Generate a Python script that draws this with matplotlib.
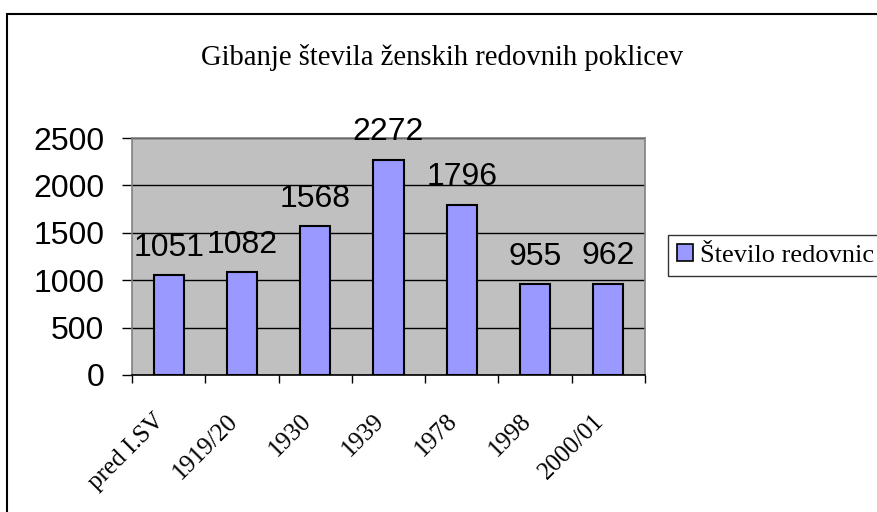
import matplotlib
matplotlib.use("Agg")
import matplotlib.pyplot as plt
from matplotlib.patches import Rectangle
import numpy as np

categories = ["pred I.SV", "1919/20", "1930", "1939", "1978", "1998", "2000/01"]
values = [1051, 1082, 1568, 2272, 1796, 955, 962]
y_ticks = [0, 500, 1000, 1500, 2000, 2500]
series_name = "Število redovnic"
title = "Gibanje števila ženskih redovnih poklicev"

W, H = 877, 512
fig = plt.figure(figsize=(W / 100, H / 100), dpi=100)
fig.patch.set_facecolor("white")

# outer chart border (left + top visible)
fig.patches.append(Rectangle((7 / W, -0.1), 1.2, 1.1 - 13.5 / H, transform=fig.transFigure,
                             fill=False, edgecolor="black", linewidth=1.5, zorder=0))

ax = fig.add_axes([132 / W, 1 - 375 / H, (645 - 132) / W, (375 - 138) / H])
ax.set_facecolor("#C0C0C0")

x = np.arange(len(categories))
bars = ax.bar(x, values, width=0.41, color="#9999FF", edgecolor="black",
              linewidth=1.5, zorder=3, label=series_name)

ax.set_xlim(-0.5, len(categories) - 0.5)
ax.set_ylim(0, 2500)
ax.set_yticks(y_ticks)
ax.yaxis.grid(True, color="black", linewidth=1, zorder=1)
ax.set_axisbelow(True)

for s in ["top", "right", "left"]:
    ax.spines[s].set_color("#808080")
ax.spines["bottom"].set_color("black")
for s in ax.spines.values():
    s.set_linewidth(1.2)

ax.tick_params(axis="y", direction="out", length=7, width=1, pad=13,
               labelsize=23, colors="black")
for lab in ax.get_yticklabels():
    lab.set_fontfamily("Liberation Sans")

# category boundary ticks, labels at centers
ax.set_xticks(np.arange(-0.5, len(categories), 1.0))
ax.set_xticklabels([])
ax.tick_params(axis="x", direction="out", length=6, width=1)
for i, c in enumerate(categories):
    ax.annotate(c, xy=(i, 0), xycoords=("data", "axes fraction"),
                xytext=(-11, -25), textcoords="offset points",
                rotation=45, rotation_mode="anchor", ha="right", va="top",
                fontsize=18, family="Liberation Serif")

for xi, v in zip(x, values):
    ax.annotate(str(v), xy=(xi, v), xytext=(0, 14), textcoords="offset points",
                ha="center", va="baseline", fontsize=23, family="Liberation Sans",
                zorder=5)

fig.text(442 / W, 1 - 65 / H, title, ha="center", va="baseline",
         fontsize=20.6, family="Liberation Serif")

handle = Rectangle((0, 0), 1, 1, facecolor="#9999FF", edgecolor="black", linewidth=1.2)
leg = fig.legend([handle], [series_name], loc="upper left",
                 bbox_to_anchor=(668 / W, 1 - 235 / H),
                 prop={"family": "Liberation Serif", "size": 19},
                 frameon=True, fancybox=False, shadow=False,
                 handlelength=0.6, handleheight=0.6, handletextpad=0.25,
                 borderpad=0.35, borderaxespad=0)
leg.get_frame().set_edgecolor("black")
leg.get_frame().set_linewidth(1)

fig.savefig("out.png", dpi=100)
